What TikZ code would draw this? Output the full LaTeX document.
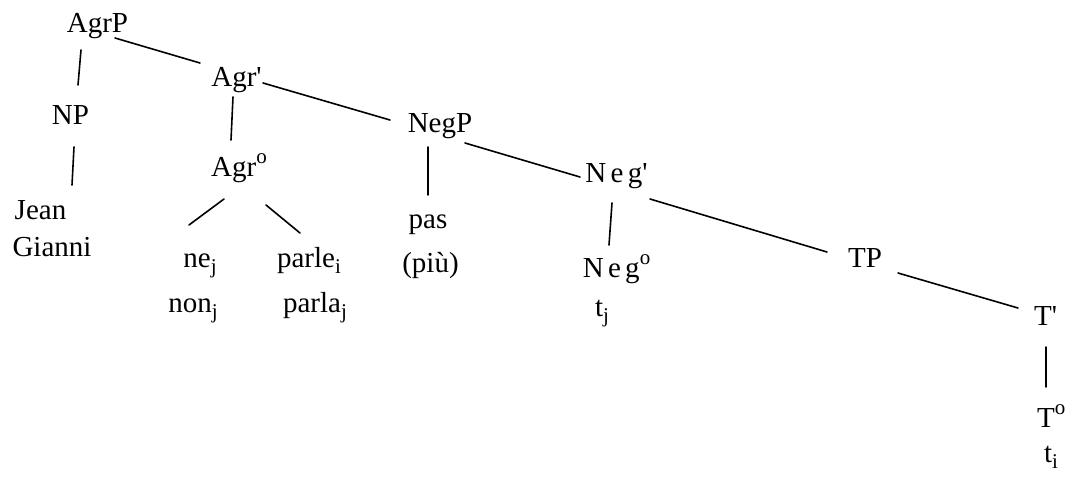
\documentclass[tikz,border=0pt]{standalone}
\usepackage{fontspec}
\setmainfont{Liberation Serif}
\newfontfamily\spacedfont[LetterSpace=15]{Liberation Serif}
\usetikzlibrary{calc}
\newcommand\treefont{\fontsize{29}{32}\selectfont}
\newcommand\lowidx[1]{\raisebox{-0.24em}{\fontsize{21}{21}\selectfont #1}}
\newcommand\highidx[1]{\raisebox{0.42em}{\fontsize{21}{21}\selectfont #1}}
\tikzset{
  lab/.style={anchor=base,inner sep=0pt,font=\treefont},
  edge/.style={line width=1.6pt,line cap=round}
}
\begin{document}
\begin{tikzpicture}[x=1pt,y=-1pt]
\useasboundingbox (0,0) rectangle (1068,479);
% nodes
\node[lab] (agrp) at (97.5,32) {AgrP};
\node[lab] (agrb) at (236.5,86) {Agr\textquotesingle};
\node[lab] (np) at (70.5,124) {NP};
\node[lab] (agro) at (239,176) {Agr\highidx{o}};
\node[lab] (jean) at (40.5,219) {Jean};
\node[lab] (gianni) at (52,256) {Gianni};
\node[lab] (ne) at (200,267) {ne\lowidx{j}};
\node[lab] (parle) at (309,267) {parle\lowidx{i}};
\node[lab] (non) at (193,312) {non\lowidx{j}};
\node[lab] (parla) at (315,312) {parla\lowidx{j}};
\node[lab] (negp) at (440,132) {NegP};
\node[lab] (pas) at (428,228) {pas};
\node[lab] (piu) at (430.5,272) {(più)};
\node[lab] (negb) at (616.5,182) {\spacedfont Neg\textquotesingle};
\node[lab] (nego) at (616.5,277) {\spacedfont Neg\highidx{o}};
\node[lab] (tj) at (602,316) {t\lowidx{j}};
\node[lab] (tp) at (865,267) {TP};
\node[lab] (tb) at (1045.5,325) {T\textquotesingle};
\node[lab,anchor=base west] (to) at (1037,427) {T\highidx{o}};
\node[lab] (ti) at (1051,462) {t\lowidx{i}};
% connectors
\draw[edge] ($(agrp.base)+(-16.5,18)$) -- ($(np.base)+(7.5,-39)$);
\draw[edge] ($(agrp.base)+(17.5,6)$) -- ($(agrb.base)+(-36.5,-23)$);
\draw[edge] ($(np.base)+(3.5,23)$) -- ($(jean.base)+(31.5,-34)$);
\draw[edge] ($(agrb.base)+(-3.5,11)$) -- ($(agro.base)+(-8,-36)$);
\draw[edge] ($(agrb.base)+(26.5,-3)$) -- ($(negp.base)+(-50,-12)$);
\draw[edge] ($(agro.base)+(-15,23)$) -- ($(ne.base)+(-11,-42)$);
\draw[edge] ($(agro.base)+(27,29)$) -- ($(parle.base)+(-9,-34)$);
\draw[edge] ($(negp.base)+(-12,15)$) -- ($(pas.base)+(0,-33)$);
\draw[edge] ($(negp.base)+(25,11)$) -- ($(negb.base)+(-36.5,-5)$);
\draw[edge] ($(negb.base)+(-4.5,21)$) -- ($(nego.base)+(-7.5,-32)$);
\draw[edge] ($(negb.base)+(33.5,17)$) -- ($(tp.base)+(-38,-15)$);
\draw[edge] ($(tp.base)+(33,6)$) -- ($(tb.base)+(-27.5,-17)$);
\draw[edge] ($(tb.base)+(0.5,22)$) -- ($(to.base west)+(9,-40)$);
\end{tikzpicture}
\end{document}
